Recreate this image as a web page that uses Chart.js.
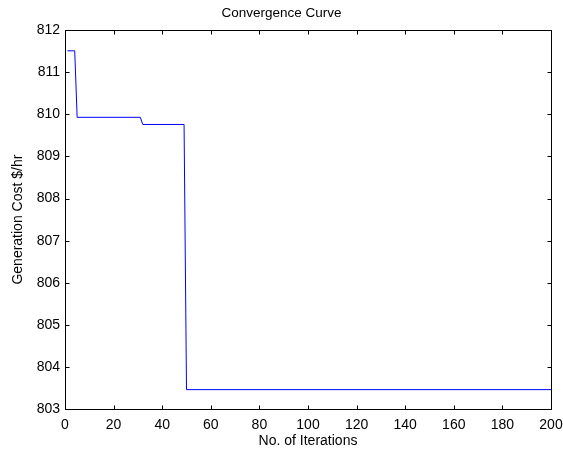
<!DOCTYPE html>
<html>
<head>
<meta charset="utf-8">
<script src="https://cdn.jsdelivr.net/npm/chart.js@4.4.1/dist/chart.umd.min.js"></script>
<style>
html,body{margin:0;padding:0;background:#fff;}
#wrap{width:563px;height:450px;}
</style>
</head>
<body>
<div id="wrap"><canvas id="c" width="563" height="450"></canvas></div>
<script>
// Breakpoints of the convergence curve (iteration, cost)
const iterations = [1, 4, 5, 31, 32, 49, 50, 200];
const costs = [811.51, 811.51, 809.93, 809.93, 809.76, 809.76, 803.46, 803.46];
const xTicks = [0, 20, 40, 60, 80, 100, 120, 140, 160, 180, 200];
const yTicks = [803, 804, 805, 806, 807, 808, 809, 810, 811, 812];
const chartTitle = 'Convergence Curve';
const xLabel = 'No. of Iterations';
const yLabel = 'Generation Cost $/hr';

const FONT = '"Liberation Sans", Arial, sans-serif';

const points = iterations.map((x, i) => ({x: x, y: costs[i]}));

const boxTicks = {
  id: 'boxTicks',
  afterDraw(chart) {
    const {ctx, chartArea: a, scales: {x, y}} = chart;
    ctx.save();
    ctx.strokeStyle = '#000';
    ctx.lineWidth = 1;
    ctx.beginPath();
    const L = Math.round(a.left) + 0.5, R = Math.round(a.right) + 0.5;
    const T = Math.round(a.top) + 0.5, B = Math.round(a.bottom) + 0.5;
    ctx.rect(L, T, R - L, B - T);
    const len = 4;
    xTicks.forEach(v => {
      const px = Math.round(x.getPixelForValue(v)) + 0.5;
      ctx.moveTo(px, B); ctx.lineTo(px, B - len);
      ctx.moveTo(px, T); ctx.lineTo(px, T + len);
    });
    yTicks.forEach(v => {
      const py = Math.round(y.getPixelForValue(v)) + 0.5;
      ctx.moveTo(L, py); ctx.lineTo(L + len, py);
      ctx.moveTo(R, py); ctx.lineTo(R - len, py);
    });
    ctx.stroke();
    ctx.restore();
  }
};

new Chart(document.getElementById('c'), {
  type: 'line',
  data: {
    datasets: [{
      data: points,
      borderColor: '#0000ff',
      borderWidth: 1,
      pointRadius: 0,
      tension: 0,
      fill: false
    }]
  },
  options: {
    responsive: false,
    animation: false,
    events: [],
    layout: {padding: {left: 0, right: 0, top: 0, bottom: 0}},
    plugins: {
      legend: {display: false},
      tooltip: {enabled: false},
      title: {
        display: true,
        text: chartTitle,
        color: '#000',
        font: {family: FONT, size: 13.5, weight: 'normal'},
        padding: {top: 5, bottom: 9}
      }
    },
    scales: {
      x: {
        type: 'linear',
        min: 0, max: 200,
        afterBuildTicks(s) { s.ticks = xTicks.map(v => ({value: v})); },
        afterFit(s) { s.height = 41; s.paddingRight = 12; s.paddingLeft = 0; },
        grid: {display: false, drawTicks: false},
        border: {display: false},
        ticks: {color: '#000', font: {family: FONT, size: 14}, padding: 8, maxRotation: 0},
        title: {display: true, text: xLabel, color: '#000', font: {family: FONT, size: 14}, padding: {top: 0, bottom: 0}}
      },
      y: {
        type: 'linear',
        min: 803, max: 812,
        afterBuildTicks(s) { s.ticks = yTicks.map(v => ({value: v})); },
        afterFit(s) { s.width = 65; },
        grid: {display: false, drawTicks: false},
        border: {display: false},
        ticks: {color: '#000', font: {family: FONT, size: 14}, padding: 5},
        title: {display: true, text: yLabel, color: '#000', font: {family: FONT, size: 14}, padding: {top: 10, bottom: 0}}
      }
    }
  },
  plugins: [boxTicks]
});
</script>
</body>
</html>
